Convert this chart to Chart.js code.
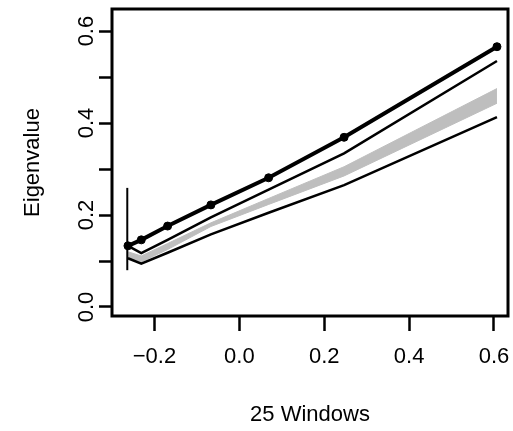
<!DOCTYPE html>
<html>
<head>
<meta charset="utf-8">
<script src="https://cdn.jsdelivr.net/npm/chart.js@4"></script>
<style>
  html, body { margin: 0; padding: 0; background: #fff; }
</style>
</head>
<body>
<canvas id="myChart" width="513" height="431"></canvas>
<script>
// window positions (x) and eigenvalue curves
const windows = [-0.2624, -0.231, -0.169, -0.067, 0.069, 0.2468, 0.607];
const observed = [0.133, 0.146, 0.176, 0.222, 0.281, 0.369, 0.566];
const upperLine = [0.133, 0.117, 0.146, 0.195, 0.255, 0.334, 0.535];
const bandTop = [0.120, 0.111, 0.138, 0.183, 0.236, 0.305, 0.475];
const bandBottom = [0.108, 0.098, 0.125, 0.175, 0.223, 0.285, 0.443];
const lowerLine = [0.106, 0.094, 0.118, 0.158, 0.205, 0.265, 0.413];

// vertical bar at the first window
const barX = [-0.264, -0.264];
const barY = [0.080, 0.259];

const xTicks = [-0.2, 0, 0.2, 0.4, 0.6];
const yTicks = [0, 0.1, 0.2, 0.3, 0.4, 0.5, 0.6];
const yLabels = [0, 0.2, 0.4, 0.6];

const FONT = 'Liberation Sans, Arial, sans-serif';

function toPoints(xs, ys) {
  return xs.map((x, i) => ({ x: x, y: ys[i] }));
}

function fmt(v) {
  const s = Math.abs(v).toFixed(1);
  return v < -1e-9 ? '\u2212' + s : s;
}

// fixed axis sizes, no extra room for overhanging labels
function fixSize(s, w, h) {
  if (w) s.width = w;
  if (h) s.height = h;
  s.paddingLeft = 0;
  s.paddingRight = 0;
  s.paddingTop = 0;
  s.paddingBottom = 0;
}

// R style box around the plot region
const boxPlugin = {
  id: 'box',
  afterDraw(chart) {
    const a = chart.chartArea;
    const ctx = chart.ctx;
    ctx.save();
    ctx.strokeStyle = '#000';
    ctx.lineWidth = 3;
    ctx.strokeRect(a.left, a.top, a.right - a.left, a.bottom - a.top);
    ctx.restore();
  }
};

const ctx = document.getElementById('myChart');

new Chart(ctx, {
  type: 'scatter',
  data: {
    datasets: [
      {
        data: toPoints(windows, observed),
        showLine: true,
        borderColor: '#000',
        backgroundColor: '#000',
        borderWidth: 4,
        pointRadius: 4,
        pointBorderWidth: 1,
        clip: false
      },
      {
        data: toPoints(windows, upperLine),
        showLine: true,
        borderColor: '#000',
        borderWidth: 2.5,
        pointRadius: 0
      },
      {
        data: toPoints(barX, barY),
        showLine: true,
        borderColor: '#000',
        borderWidth: 2,
        pointRadius: 0
      },
      {
        data: toPoints(windows, lowerLine),
        showLine: true,
        borderColor: '#000',
        borderWidth: 2.5,
        pointRadius: 0
      },
      {
        data: toPoints(windows, bandTop),
        showLine: true,
        borderColor: '#bebebe',
        borderWidth: 1,
        backgroundColor: '#bebebe',
        pointRadius: 0,
        fill: 5
      },
      {
        data: toPoints(windows, bandBottom),
        showLine: true,
        borderColor: '#bebebe',
        borderWidth: 1,
        pointRadius: 0
      }
    ]
  },
  options: {
    responsive: false,
    animation: false,
    events: [],
    layout: { padding: { top: 9, right: 2, left: 0, bottom: 0 } },
    plugins: {
      legend: { display: false },
      tooltip: { enabled: false }
    },
    scales: {
      x: {
        type: 'linear',
        min: -0.30,
        max: 0.633,
        afterBuildTicks: s => { s.ticks = xTicks.map(v => ({ value: v })); },
        afterFit: s => fixSize(s, 0, 115),
        border: { display: false },
        grid: {
          drawOnChartArea: false,
          drawTicks: true,
          tickLength: 15,
          tickColor: '#000',
          tickWidth: 2.5
        },
        ticks: {
          color: '#000',
          font: { family: FONT, size: 22 },
          padding: 13,
          maxRotation: 0,
          autoSkip: false,
          callback: v => fmt(v)
        },
        title: {
          display: true,
          text: '25 Windows',
          color: '#000',
          font: { family: FONT, size: 22 },
          padding: { top: 3, bottom: 3 }
        }
      },
      y: {
        type: 'linear',
        min: -0.0196,
        max: 0.648,
        afterBuildTicks: s => { s.ticks = yTicks.map(v => ({ value: v })); },
        afterFit: s => fixSize(s, 112, 0),
        border: { display: false },
        grid: {
          drawOnChartArea: false,
          drawTicks: true,
          tickLength: 13,
          tickColor: '#000',
          tickWidth: 2.5
        },
        ticks: {
          color: '#000',
          font: { family: FONT, size: 22 },
          padding: -3,
          minRotation: 90,
          maxRotation: 90,
          crossAlign: 'center',
          autoSkip: false,
          callback: v => yLabels.some(l => Math.abs(l - v) < 1e-6) ? fmt(v) : ''
        },
        title: {
          display: true,
          text: 'Eigenvalue',
          color: '#000',
          font: { family: FONT, size: 22 },
          padding: { top: 20, bottom: 20 }
        }
      }
    }
  },
  plugins: [boxPlugin]
});
</script>
</body>
</html>
